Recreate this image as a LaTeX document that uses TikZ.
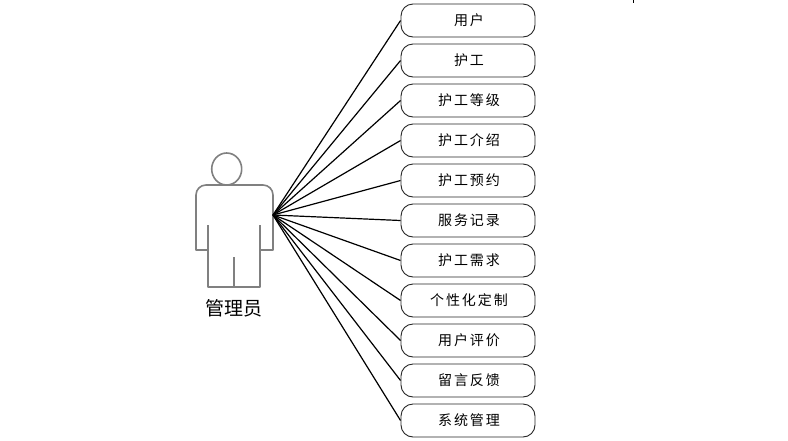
\documentclass[tikz,border=0pt]{standalone}
\usepackage{fontspec}
\newfontfamily\cjk{Noto Sans CJK SC}
\newfontfamily\cjkbox[LetterSpace=14]{Noto Sans CJK SC}
\begin{document}
\begin{tikzpicture}[x=1pt,y=-1pt,
  usecase/.style={draw=black!85,line width=0.9pt,rounded corners=12pt,minimum width=134pt,minimum height=33pt,inner sep=0pt,font=\cjkbox\fontsize{14}{16}\selectfont},
  actorline/.style={draw=black!50,line width=1.6pt,line join=round},
  link/.style={draw=black,line width=1.2pt}]
\useasboundingbox (0,0) rectangle (788,440);
% actor
\draw[actorline] (226.7,169) ellipse [x radius=15, y radius=16];
\draw[actorline] (208,287) -- (208,250) -- (196,250) -- (196,195) to[out=90,in=180] (206,185) -- (263,185) to[out=0,in=90] (273,195) -- (273,250) -- (260,250) -- (260,287) -- cycle;
\draw[actorline] (208,225) -- (208,250);
\draw[actorline] (260,225) -- (260,250);
\draw[actorline] (234,257) -- (234,287);
\node[font=\cjk\fontsize{19}{22}\selectfont] (actor) at (234,308) {管理员};
\coordinate (hub) at (273,215);
% use cases
\foreach \i/\t in {1/用户,2/护工,3/护工等级,4/护工介绍,5/护工预约,6/服务记录,7/护工需求,8/个性化定制,9/用户评价,10/留言反馈,11/系统管理}{
  \node[usecase] (b\i) at (468,{20.5+40*(\i-1)}) {\hspace*{2pt}\t};
  \draw[link] (hub) -- (b\i.west);
}
\draw[black,line width=1pt] (633,0) -- (633,3);
\end{tikzpicture}
\end{document}
